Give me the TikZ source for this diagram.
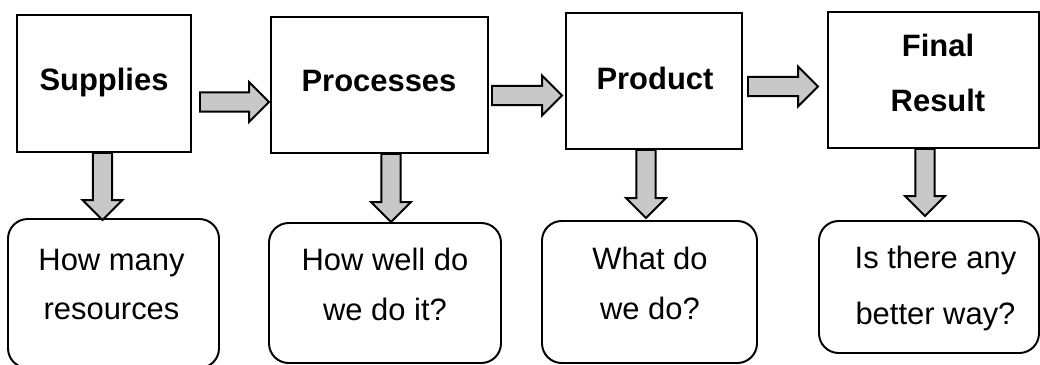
\documentclass[tikz,border=0pt]{standalone}
\usepackage{fontspec}
\setmainfont{Liberation Sans}
\usetikzlibrary{calc,fit}

\definecolor{arrowgray}{RGB}{200,200,200}

% Block arrow sizes
\newcommand\shaftw{6.8pt}
\newcommand\headw{14.2pt}
\newcommand\headl{14.2pt}

% Block arrow pointing right (#1 start, #2 tip)
\newcommand\fatright[2]{%
  \draw[fat] let \p1=(#1), \p2=(#2) in
    (\x1,\y1-\shaftw) -- (\x2-\headl,\y1-\shaftw) -- (\x2-\headl,\y1-\headw) -- (\x2,\y1)
    -- (\x2-\headl,\y1+\headw) -- (\x2-\headl,\y1+\shaftw) -- (\x1,\y1+\shaftw) -- cycle;}

% Block arrow pointing down (#1 start, #2 tip)
\newcommand\fatdown[2]{%
  \draw[fat] let \p1=(#1), \p2=(#2) in
    (\x1-\shaftw,\y1) -- (\x1-\shaftw,\y2+\headl) -- (\x1-\headw,\y2+\headl) -- (\x1,\y2)
    -- (\x1+\headw,\y2+\headl) -- (\x1+\shaftw,\y2+\headl) -- (\x1+\shaftw,\y1) -- cycle;}

\begin{document}
\begin{tikzpicture}[x=0.025cm, y=-0.025cm, line width=1.4pt,
  stage/.style={draw, inner sep=0pt},
  question/.style={draw, rounded corners=14pt, inner sep=0pt},
  title/.style={font=\fontsize{22}{39}\selectfont\bfseries, align=center},
  answer/.style={font=\fontsize{22}{35}\selectfont, align=center},
  fat/.style={draw, fill=arrowgray, line width=1.4pt, line join=miter}]

\useasboundingbox (0,0) rectangle (1040,364);

% Stage boxes
\node[stage, fit={(17,15) (191,152)}] (sup) {};
\node[stage, fit={(271,17) (488,153)}] (proc) {};
\node[stage, fit={(566,13) (742,149)}] (prod) {};
\node[stage, fit={(828,12) (1039,148)}] (fin) {};

% Question boxes
\node[question, fit={(8,219) (219,368)}] (qsup) {};
\node[question, fit={(269,223) (501,363)}] (qproc) {};
\node[question, fit={(542,221) (757,363)}] (qprod) {};
\node[question, fit={(819,221) (1039,353)}] (qfin) {};

% Stage titles
\foreach \name/\x/\y/\txt in {
    supT/104/82/Supplies,
    procT/379/81/Processes,
    prodT/655/78/Product,
    finT/938/73/Final\\Result
  }
{
  \node[title] (\name) at (\x,\y) {\txt};
}

% Questions
\foreach \name/\x/\y/\txt in {
    qsupT/111.5/284.5/How many\\resources,
    qprocT/385/284.5/How well do\\we do it?,
    qprodT/650/283.5/What do\\we do?,
    qfinT/935.5/288.5/Is there any\\[5pt]better way?
  }
{
  \node[answer] (\name) at (\x,\y) {\txt};
}

% Arrows between stages
\fatright{$(sup.east)+(8,18.5)$}{$(proc.west)+(-1,0)$}
\fatright{$(proc.east)+(3,10.5)$}{$(prod.west)+(-3,0)$}
\fatright{$(prod.east)+(5,5.5)$}{$(fin.west)+(-9,0)$}

% Arrows down to the questions
\fatdown{$(sup.south)+(-1.5,0)$}{$(qsup.north)+(0,2)$}
\fatdown{$(proc.south)+(11.5,0)$}{qproc.north}
\fatdown{$(prod.south)+(-8,0)$}{$(qprod.north)+(0,-2)$}
\fatdown{$(fin.south)+(-8.5,0)$}{$(qfin.north)+(0,-4)$}

\end{tikzpicture}
\end{document}
